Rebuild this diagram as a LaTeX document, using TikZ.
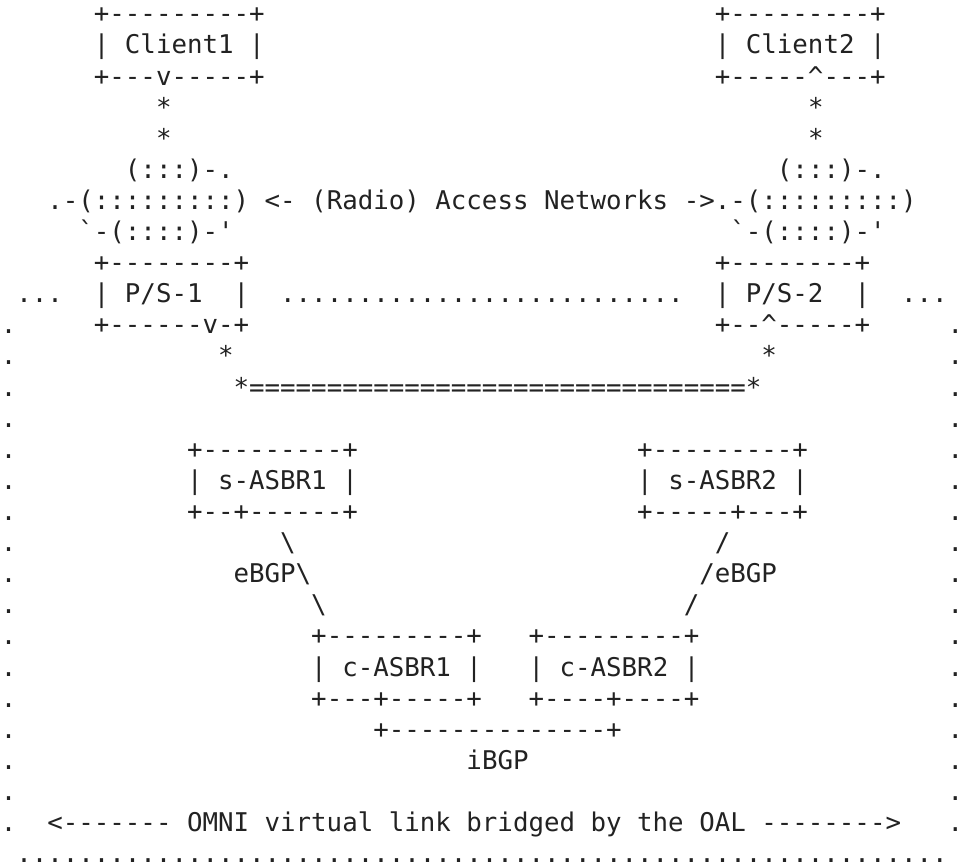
\documentclass[tikz,border=0pt]{standalone}
\usepackage{fontspec}
\setmonofont{DejaVu Sans Mono}
\definecolor{ink}{HTML}{222222}
\newcommand\asciifont{\ttfamily\frenchspacing\fontsize{19.396pt}{23.4pt}\selectfont}
\tikzset{a/.style={anchor=base west, inner sep=0pt, outer sep=0pt, font=\asciifont, text=ink}}
\begin{document}
\begin{tikzpicture}[x=11.6775pt, y=-23.4pt]
\fill[white] (-0.05,0.267) rectangle (62.05,28.139);
\useasboundingbox (-0.05,0.267) rectangle (62.05,28.139);
% clients
\node[a] (c1t) at (6,1) {+---------+};
\node[a] (c2t) at (46,1) {+---------+};
\node[a] (c1m) at (6,2) {|~Client1~|};
\node[a] (c2m) at (46,2) {|~Client2~|};
\node[a] (c1b) at (6,3) {+---v-----+};
\node[a] (c2b) at (46,3) {+-----\textasciicircum---+};
\node[a] (s1a) at (10,4) {*};
\node[a] (s2a) at (52,4) {*};
\node[a] (s1b) at (10,5) {*};
\node[a] (s2b) at (52,5) {*};
% access networks
\node[a] (n1a) at (8,6) {(:::)-.};
\node[a] (n2a) at (50,6) {(:::)-.};
\node[a] (n1b) at (3,7) {.-(:::::::::)};
\node[a] (anl) at (17,7) {<-~(Radio)~Access~Networks~->};
\node[a] (n2b) at (46,7) {.-(:::::::::)};
\node[a] (n1c) at (5,8) {`-(::::)-'};
\node[a] (n2c) at (47,8) {`-(::::)-'};
% proxy/servers
\node[a] (p1t) at (6,9) {+--------+};
\node[a] (p2t) at (46,9) {+--------+};
\node[a] (dl) at (1,10) {...};
\node[a] (p1m) at (6,10) {|~P/S-1~~|};
\node[a] (dm) at (18,10) {..........................};
\node[a] (p2m) at (46,10) {|~P/S-2~~|};
\node[a] (dr) at (58,10) {...};
\node[a] (p1b) at (6,11) {+------v-+};
\node[a] (p2b) at (46,11) {+--\textasciicircum-----+};
\node[a] (s3) at (14,12) {*};
\node[a] (s4) at (49,12) {*};
\node[a] (bus) at (15,13) {*================================*};
% ASBRs
\node[a] (sa1t) at (12,15) {+---------+};
\node[a] (sa2t) at (41,15) {+---------+};
\node[a] (sa1m) at (12,16) {|~s-ASBR1~|};
\node[a] (sa2m) at (41,16) {|~s-ASBR2~|};
\node[a] (sa1b) at (12,17) {+--+------+};
\node[a] (sa2b) at (41,17) {+-----+---+};
\node[a] (e1a) at (18,18) {\textbackslash};
\node[a] (e2a) at (46,18) {/};
\node[a] (e1b) at (15,19) {eBGP\textbackslash};
\node[a] (e2b) at (45,19) {/eBGP};
\node[a] (e1c) at (20,20) {\textbackslash};
\node[a] (e2c) at (44,20) {/};
\node[a] (ca1t) at (20,21) {+---------+};
\node[a] (ca2t) at (34,21) {+---------+};
\node[a] (ca1m) at (20,22) {|~c-ASBR1~|};
\node[a] (ca2m) at (34,22) {|~c-ASBR2~|};
\node[a] (ca1b) at (20,23) {+---+-----+};
\node[a] (ca2b) at (34,23) {+----+----+};
\node[a] (ib) at (24,24) {+--------------+};
\node[a] (ibl) at (30,25) {iBGP};
\node[a] (omni) at (3,27) {<-------~OMNI~virtual~link~bridged~by~the~OAL~-------->};
% dotted frame
\foreach \r in {11,...,27} {
  \node[a] (lf\r) at (0,\r) {.};
  \node[a] (rf\r) at (61,\r) {.};
}
\node[a] (bot) at (1,28) {............................................................};
\end{tikzpicture}
\end{document}
